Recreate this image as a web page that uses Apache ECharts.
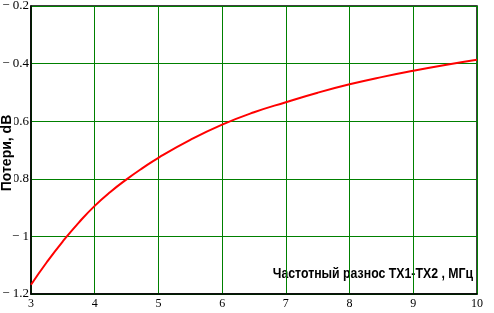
<!DOCTYPE html>
<html><head><meta charset="utf-8">
<script src="https://cdn.jsdelivr.net/npm/echarts@6/dist/echarts.min.js"></script>
<style>html,body{margin:0;padding:0;background:#fff}#c{width:494px;height:313px}</style>
</head><body><div id="c"></div>
<script>
const xValues = [3, 3.25, 3.5, 3.75, 4, 4.25, 4.5, 4.75, 5, 5.5, 6, 6.5, 7, 7.5, 8, 8.5, 9, 9.5, 10];
const lossValues = [-1.168, -1.089, -1.017, -0.952, -0.894, -0.845, -0.802, -0.763, -0.727, -0.665, -0.612, -0.569, -0.534, -0.501, -0.472, -0.447, -0.425, -0.405, -0.387];
const xAxisTitle = 'Частотный разнос TX1-TX2 , МГц';
const yAxisTitle = 'Потери, dB';

const chart = echarts.init(document.getElementById('c'), null, {renderer: 'canvas'});
chart.setOption({
  animation: false,
  backgroundColor: '#fff',
  grid: {left: 31, right: 17, top: 6, bottom: 19, outerBoundsMode: 'none', containLabel: false,
    show: true, borderColor: '#000', borderWidth: 1.5, backgroundColor: 'transparent'},
  xAxis: {
    type: 'value', min: 3, max: 10, interval: 1,
    axisLine: {show: true, onZero: false, lineStyle: {color: '#000', width: 1.5}},
    axisTick: {show: false},
    splitLine: {show: true, lineStyle: {color: '#008000', width: 1}},
    axisLabel: {color: '#000', fontFamily: 'Liberation Serif', fontSize: 12, margin: 4}
  },
  yAxis: {
    type: 'value', min: -1.2, max: -0.2, interval: 0.2,
    axisLine: {show: true, onZero: false, lineStyle: {color: '#000', width: 1.5}},
    axisTick: {show: false},
    splitLine: {show: true, lineStyle: {color: '#008000', width: 1}},
    axisLabel: {color: '#000', fontFamily: 'Liberation Serif', fontSize: 13, margin: 2,
      formatter: v => (v < 0 ? '\u2212 ' : '') + Math.abs(Math.round(v * 10) / 10)}
  },
  graphic: [{
    type: 'text', right: 21, top: 266, scaleX: 0.82, originX: 473,
    style: {text: xAxisTitle, fontFamily: 'Liberation Sans', fontWeight: 'bold', fontSize: 15, fill: '#000'}
  }, {
    type: 'text', x: 7, y: 153, rotation: Math.PI / 2, z: 100,
    style: {text: yAxisTitle, fontFamily: 'Liberation Sans', fontWeight: 'bold', fontSize: 14, fill: '#000',
      align: 'center', verticalAlign: 'middle', backgroundColor: '#fff', padding: [0, 1]}
  }],
  series: [{
    type: 'line', smooth: true, symbol: 'none',
    data: xValues.map((x, i) => [x, lossValues[i]]),
    lineStyle: {color: '#ff0000', width: 2}
  }]
});
</script></body></html>
